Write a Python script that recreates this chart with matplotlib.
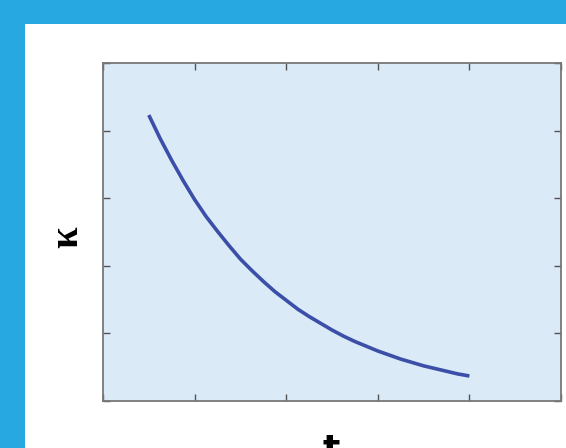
import numpy as np
import matplotlib
matplotlib.use('Agg')
import matplotlib.pyplot as plt
from matplotlib.patches import Rectangle

# curve values
t = [0.5, 0.625, 0.75, 0.875, 1.0, 1.125, 1.25, 1.375, 1.5, 1.625, 1.75, 1.875,
     2.0, 2.125, 2.25, 2.375, 2.5, 2.625, 2.75, 2.875, 3.0, 3.125, 3.25, 3.375,
     3.5, 3.625, 3.75, 3.875, 4.0]
kappa = [4.23, 3.88, 3.56, 3.26, 2.98, 2.73, 2.51, 2.30, 2.10, 1.93, 1.77, 1.62,
         1.49, 1.36, 1.25, 1.15, 1.05, 0.96, 0.88, 0.81, 0.74, 0.68, 0.62, 0.57,
         0.52, 0.48, 0.44, 0.40, 0.37]
xticks = [0, 1, 2, 3, 4, 5]
yticks = [0, 1, 2, 3, 4, 5]

W, H = 566, 448
fig = plt.figure(figsize=(W / 100, H / 100), dpi=100)
fig.patch.set_facecolor('#27a8e1')
# white panel inside the blue frame
fig.patches.append(Rectangle((25 / W, 0), 1, 1 - 24 / H, transform=fig.transFigure,
                             facecolor='white', edgecolor='none', zorder=-5))

ax = fig.add_axes([103 / W, 1 - 401 / H, 458 / W, 338 / H])
ax.set_zorder(2)
ax.set_facecolor('#daeaf7')
ax.plot(t, kappa, color='#3b4ea8', lw=2.6, solid_capstyle='butt')
ax.set_xlim(0, 5)
ax.set_ylim(0, 5)
ax.set_xticks(xticks)
ax.set_yticks(yticks)
ax.tick_params(direction='in', length=5, width=1, color='#555555',
               top=True, right=True, labelbottom=False, labelleft=False)
for s in ax.spines.values():
    s.set_color('#777777')
    s.set_linewidth(1.3)

fig.text(68 / W, 1 - 237 / H, 'κ', rotation=90, fontsize=28, fontweight='bold',
         family='Liberation Serif', ha='center', va='center')
fig.text(331 / W, 1 - 433 / H, 't', fontsize=26, fontweight='bold',
         ha='center', va='top')

fig.savefig('out.png', dpi=100)
